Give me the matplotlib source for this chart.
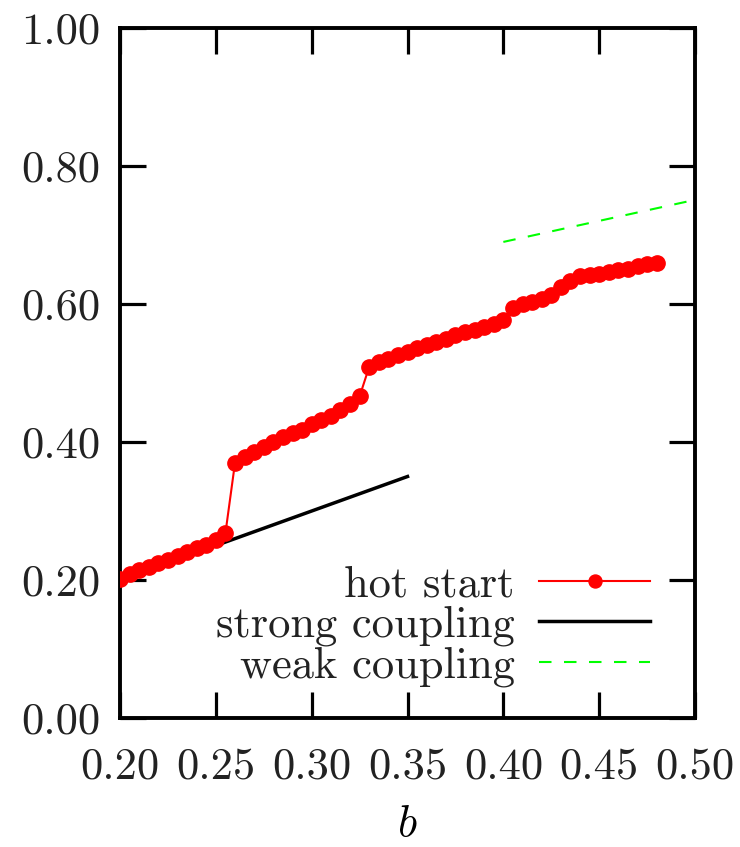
import numpy as np
import matplotlib
matplotlib.use("Agg")
import matplotlib.pyplot as plt

plt.rcParams['font.family'] = ['cmr10', 'DejaVu Serif']
plt.rcParams['mathtext.fontset'] = 'cm'
plt.rcParams['axes.formatter.use_mathtext'] = True

# hot start data, b from 0.200 to 0.480 in steps of 0.005
b_hot = np.round(np.arange(0.200, 0.4801, 0.005), 3)
y_hot = [0.201, 0.209, 0.214, 0.219, 0.224, 0.229, 0.235, 0.241, 0.246, 0.251,
         0.258, 0.268, 0.370, 0.378, 0.386, 0.393, 0.400, 0.407, 0.413, 0.418,
         0.426, 0.432, 0.438, 0.446, 0.455, 0.466, 0.509, 0.516, 0.521, 0.526,
         0.531, 0.536, 0.540, 0.545, 0.550, 0.555, 0.560, 0.563, 0.567, 0.571,
         0.577, 0.594, 0.600, 0.603, 0.608, 0.613, 0.625, 0.634, 0.640, 0.642,
         0.644, 0.647, 0.649, 0.651, 0.655, 0.658, 0.660]

b_strong = [0.20, 0.35]
y_strong = [0.20, 0.35]

b_weak = [0.40, 0.50]
y_weak = [0.690, 0.751]

xticks = [0.20, 0.25, 0.30, 0.35, 0.40, 0.45, 0.50]
yticks = [0.00, 0.20, 0.40, 0.60, 0.80, 1.00]

fig = plt.figure(figsize=(7.4, 8.47), dpi=100)
ax = fig.add_axes([0.1622, 0.1523, 0.777, 0.8146])

ax.plot(b_hot, y_hot, color='#ff0000', lw=1.5, marker='o', ms=11,
        label='hot start', zorder=3)
ax.plot(b_strong, y_strong, color='black', lw=2.5, label='strong coupling', zorder=2)
ax.plot(b_weak, y_weak, color='#00ff00', lw=1.5, dashes=(6, 6),
        label='weak coupling', zorder=2)

ax.set_xlim(0.20, 0.50)
ax.set_ylim(0.0, 1.0)
ax.set_xticks(xticks)
ax.set_yticks(yticks)
ax.set_xticklabels([f'{v:.2f}' for v in xticks])
ax.set_yticklabels([f'{v:.2f}' for v in yticks])
ax.tick_params(direction='in', length=19, width=2.3, labelsize=32,
               top=True, right=True, colors='black', labelcolor='#222222')
ax.tick_params(axis='x', pad=21)
ax.tick_params(axis='y', pad=14)
for s in ax.spines.values():
    s.set_linewidth(2.8)

ax.set_xlabel('$b$', fontsize=32, labelpad=13)

leg = ax.legend(loc='lower right', bbox_to_anchor=(0.922, 0.045),
                frameon=False, markerfirst=False, fontsize=32,
                handlelength=2.5, handletextpad=0.55, labelspacing=0.0,
                borderpad=0, borderaxespad=0, markerscale=0.85)
for t in leg.get_texts():
    t.set_color('#222222')

fig.savefig('out.png', dpi=100)
